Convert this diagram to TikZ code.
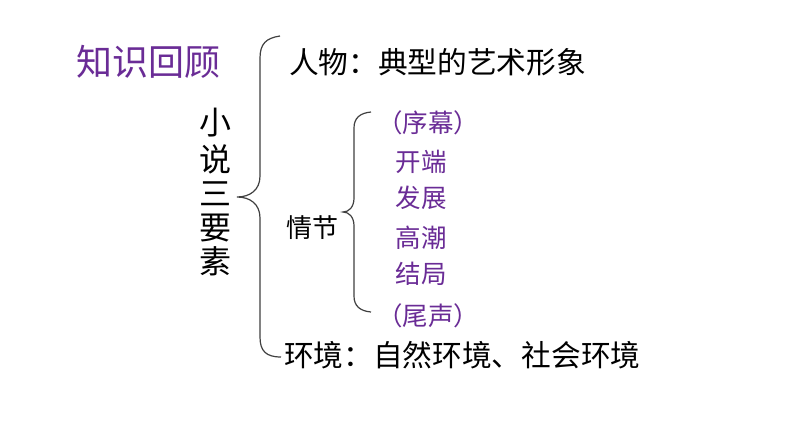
\documentclass[tikz,border=0pt]{standalone}
\usepackage{fontspec}
\newfontfamily\cjk{Noto Sans CJK SC}
\definecolor{pptpurple}{HTML}{6A2C96}
\definecolor{bracegray}{HTML}{404040}
\begin{document}
\begin{tikzpicture}[x=1pt,y=-1pt,
  every node/.style={inner sep=0pt, outer sep=0pt},
  title/.style={font=\cjk\fontsize{36}{36}\selectfont, text=pptpurple},
  mainitem/.style={font=\cjk\fontsize{29.7}{30}\selectfont, text=black, anchor=west},
  subitem/.style={font=\cjk\fontsize{25.5}{26}\selectfont, text=pptpurple},
  vchar/.style={font=\cjk\fontsize{32}{32}\selectfont, text=black},
  bracepath/.style={draw=bracegray, line width=1.2pt}]
\useasboundingbox (0,0) rectangle (794,447);
\fill[white] (0,0) rectangle (794,447);
\node[title] (title) at (148,62) {知识回顾};
% vertical title
\node[vchar] (c1) at (215,123) {小};
\node[vchar] (c2) at (215,159) {说};
\node[vchar] (c3) at (215,194) {三};
\node[vchar] (c4) at (215,228) {要};
\node[vchar] (c5) at (215,261) {素};
% first brace
\coordinate (b1top) at (280,36);
\coordinate (b1tip) at (237,197);
\coordinate (b1bot) at (281,357);
\draw[bracepath] (b1top) .. controls (266,38) and (260,44) .. (260,58)
  -- (260,176) .. controls (260,190) and (250,197) .. (b1tip)
  .. controls (250,197) and (260,204) .. (260,218)
  -- (260,337) .. controls (260,351) and (266,357) .. (b1bot);
\node[mainitem] (renwu) at (289,62) {人物：典型的艺术形象};
\node[font=\cjk\fontsize{26}{26}\selectfont] (qingjie) at (312,228) {情节};
\node[mainitem] (huanjing) at (284,355) {环境：自然环境、社会环境};
% second brace
\coordinate (b2top) at (371,112);
\coordinate (b2tip) at (343,212);
\coordinate (b2bot) at (371,312);
\draw[bracepath] (b2top) .. controls (360,113) and (354,118) .. (354,128)
  -- (354,198) .. controls (354,207) and (349,212) .. (b2tip)
  .. controls (349,212) and (354,217) .. (354,226)
  -- (354,296) .. controls (354,306) and (360,311) .. (b2bot);
\node[subitem] (xumu) at (428,123) {（序幕）};
\node[subitem] (kaiduan) at (421,162) {开端};
\node[subitem] (fazhan) at (421,198) {发展};
\node[subitem] (gaochao) at (421,238) {高潮};
\node[subitem] (jieju) at (421,274) {结局};
\node[subitem] (weisheng) at (428,316) {（尾声）};
\end{tikzpicture}
\end{document}
